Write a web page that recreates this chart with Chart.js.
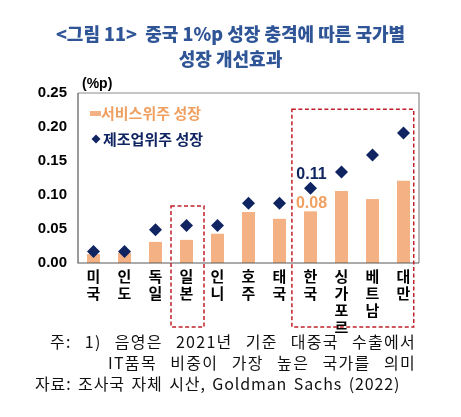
<!DOCTYPE html>
<html>
<head>
<meta charset="utf-8">
<script src="https://cdn.jsdelivr.net/npm/chart.js@4"></script>
<style>
  body { margin: 0; background: #fff; }
  #wrap { position: relative; width: 461px; height: 417px; }
  canvas { position: absolute; left: 0; top: 0; }
  .t { position: absolute; left: 0; width: 461px; text-align: center; color: #2F5597;
       font: 900 18px "Noto Sans CJK KR", sans-serif; }
  .f { position: absolute; color: #111; font: 16px "Noto Sans CJK KR", sans-serif;
       letter-spacing: 1.3px; white-space: nowrap; line-height: 20px; }
  .j { text-align: justify; text-align-last: justify; }
</style>
</head>
<body>
<div id="wrap">
  <canvas id="c" width="461" height="417"></canvas>
  <div class="t" style="top:20px">&lt;그림 11&gt;&nbsp; 중국 1%p 성장 충격에 따른 국가별</div>
  <div class="t" style="top:45px">성장 개선효과</div>
  <div class="f j" style="left:50px; top:331px; width:366px">주: 1) 음영은 2021년 기준 대중국 수출에서</div>
  <div class="f j" style="left:108px; top:352px; width:308px">IT품목 비중이 가장 높은 국가를 의미</div>
  <div class="f" style="left:35px; top:373px; letter-spacing:0.9px; word-spacing:2px">자료: 조사국 자체 시산, Goldman Sachs (2022)</div>
</div>
<script>
const countries = ["미국", "인도", "독일", "일본", "인니", "호주", "태국", "한국", "싱가포르", "베트남", "대만"];
const serviceGrowth = [0.013, 0.015, 0.031, 0.034, 0.043, 0.075, 0.065, 0.076, 0.106, 0.094, 0.121];
const manufGrowth = [0.017, 0.017, 0.049, 0.055, 0.055, 0.088, 0.088, 0.110, 0.134, 0.159, 0.191];
const yTicks = [0, 0.05, 0.1, 0.15, 0.2, 0.25];

const orange = "#F4B183";
const orangeText = "#F0A060";
const navy = "#0F2461";

// legend, unit, frame, callouts and dashed highlight boxes
const extras = {
  id: "extras",
  afterDatasetsDraw(chart) {
    const { ctx, chartArea: a, scales } = chart;
    const x = scales.x, y = scales.y;
    ctx.save();

    // frame
    ctx.lineWidth = 1.2;
    ctx.strokeStyle = "#8c8c8c";
    ctx.beginPath();
    ctx.moveTo(a.left, a.top); ctx.lineTo(a.right, a.top); ctx.lineTo(a.right, a.bottom);
    ctx.stroke();
    ctx.strokeStyle = "#595959";
    ctx.beginPath();
    ctx.moveTo(a.left, a.top); ctx.lineTo(a.left, a.bottom); ctx.lineTo(a.right, a.bottom);
    ctx.stroke();

    // unit
    ctx.fillStyle = "#000";
    ctx.font = "bold 14px 'Liberation Sans', Arial, sans-serif";
    ctx.textBaseline = "middle";
    ctx.textAlign = "left";
    ctx.fillText("(%p)", a.left + 4, a.top - 9);

    // legend
    const ds = chart.data.datasets;
    ctx.font = "bold 15px 'Noto Sans CJK KR', sans-serif";
    ctx.fillStyle = orange;
    ctx.fillRect(a.left + 12, a.top + 18, 11, 5);
    ctx.fillStyle = orangeText;
    ctx.fillText(ds[0].label, a.left + 23, a.top + 20);
    ctx.fillStyle = navy;
    ctx.beginPath();
    const dx = a.left + 18, dy = a.top + 46;
    ctx.moveTo(dx - 4.5, dy); ctx.lineTo(dx, dy - 4.5); ctx.lineTo(dx + 4.5, dy); ctx.lineTo(dx, dy + 4.5);
    ctx.closePath(); ctx.fill();
    ctx.fillText(ds[1].label, a.left + 25, a.top + 46);

    // callouts for Korea
    const k = countries.indexOf("한국");
    const kx = x.getPixelForValue(k);
    ctx.textAlign = "center";
    ctx.font = "bold 16px 'Liberation Sans', Arial, sans-serif";
    ctx.fillStyle = navy;
    ctx.fillText(manufGrowth[k].toFixed(2), kx + 1, y.getPixelForValue(manufGrowth[k]) - 14);
    ctx.fillStyle = orangeText;
    ctx.fillText(serviceGrowth[k].toFixed(2), kx + 1, y.getPixelForValue(serviceGrowth[k]) - 8);

    // dashed highlight boxes
    const step = x.getPixelForValue(1) - x.getPixelForValue(0);
    ctx.strokeStyle = "#C0202A";
    ctx.lineWidth = 1.5;
    ctx.setLineDash([4, 2.5]);
    const j = countries.indexOf("일본");
    const jx = x.getPixelForValue(j);
    ctx.strokeRect(jx - step / 2, y.getPixelForValue(0.084), step + 2, 327 - y.getPixelForValue(0.084));
    const last = countries.length - 1;
    const l = kx - step * 0.6, r = x.getPixelForValue(last) + step * 0.33;
    const top = y.getPixelForValue(0.226);
    ctx.strokeRect(l, top, r - l, 327 - top);
    ctx.restore();
  }
};

new Chart(document.getElementById("c"), {
  type: "bar",
  data: {
    labels: countries.map((c) => c.split("")),
    datasets: [
      {
        label: "서비스위주 성장",
        data: serviceGrowth,
        backgroundColor: orange,
        barPercentage: 0.42,
        categoryPercentage: 1,
        order: 2,
      },
      {
        label: "제조업위주 성장",
        type: "line",
        data: manufGrowth,
        showLine: false,
        pointStyle: "rectRot",
        pointRadius: 6.5,
        pointBorderWidth: 0,
        pointBackgroundColor: navy,
        order: 1,
      },
    ],
  },
  plugins: [extras],
  options: {
    responsive: false,
    animation: false,
    layout: { padding: { top: 93, right: 42, left: 0, bottom: 0 } },
    plugins: { legend: { display: false }, tooltip: { enabled: false } },
    scales: {
      x: {
        grid: { display: false, drawTicks: false },
        border: { display: false },
        ticks: {
          color: "#000",
          padding: 5,
          maxRotation: 0,
          autoSkip: false,
          font: { family: "'Noto Sans CJK KR', sans-serif", size: 15, weight: "bold", lineHeight: 1.12 },
        },
        afterFit: (s) => { s.height = 154; },
      },
      y: {
        min: 0,
        max: 0.25,
        grid: { display: false, drawTicks: false },
        border: { display: false },
        afterBuildTicks: (s) => { s.ticks = yTicks.map((v) => ({ value: v })); },
        ticks: {
          color: "#000",
          padding: 11,
          font: { family: "'Liberation Sans', Arial, sans-serif", size: 15, weight: "bold" },
          callback: (v) => v.toFixed(2),
        },
        afterFit: (s) => { s.width = 78; },
      },
    },
  },
});
</script>
</body>
</html>
